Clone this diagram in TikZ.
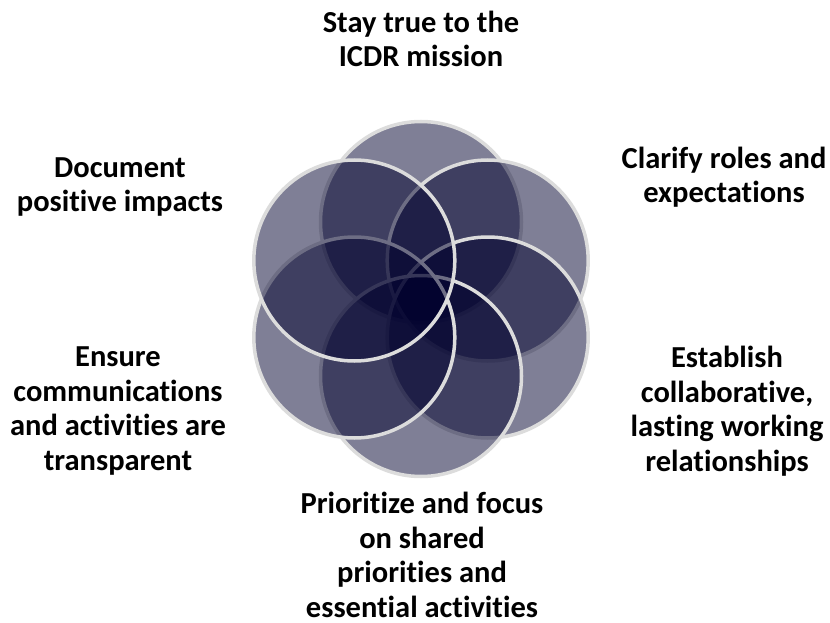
\documentclass[tikz,border=0pt]{standalone}
\usepackage{fontspec}
\setmainfont{Carlito}[Ligatures={NoCommon}]
\definecolor{petalfill}{RGB}{0,0,45}
\definecolor{petaledge}{RGB}{220,220,220}
\begin{document}
\begin{tikzpicture}[x=1pt,y=-1pt,
  petal/.style={circle, minimum size=201pt, inner sep=0pt, fill=petalfill, fill opacity=0.5, draw=petaledge, draw opacity=1, line width=3.5pt},
  lbl/.style={font=\bfseries\fontsize{30.5}{34.5}\selectfont, align=center, text=black, inner sep=0pt}]
\useasboundingbox (0,0) rectangle (830,623);
\node[petal] (c1) at (421,222) {};
\node[petal] (c2) at (487.7,260.5) {};
\node[petal] (c3) at (487.7,337.5) {};
\node[petal] (c4) at (421,376) {};
\node[petal] (c5) at (354.3,337.5) {};
\node[petal] (c6) at (354.3,260.5) {};
\node[lbl] (t1) at (421,39) {Stay true to the\\ICDR mission};
\node[lbl] (t2) at (724,177) {Clarify roles and\\expectations};
\node[lbl] (t3) at (727,411) {Establish\\collaborative,\\lasting working\\relationships};
\node[lbl] (t4) at (422,555) {Prioritize and focus\\on shared\\priorities and\\essential activities};
\node[lbl] (t5) at (118,411) {Ensure\\communications\\and activities are\\transparent};
\node[lbl] (t6) at (120,187) {Document\\positive impacts};
\end{tikzpicture}
\end{document}
